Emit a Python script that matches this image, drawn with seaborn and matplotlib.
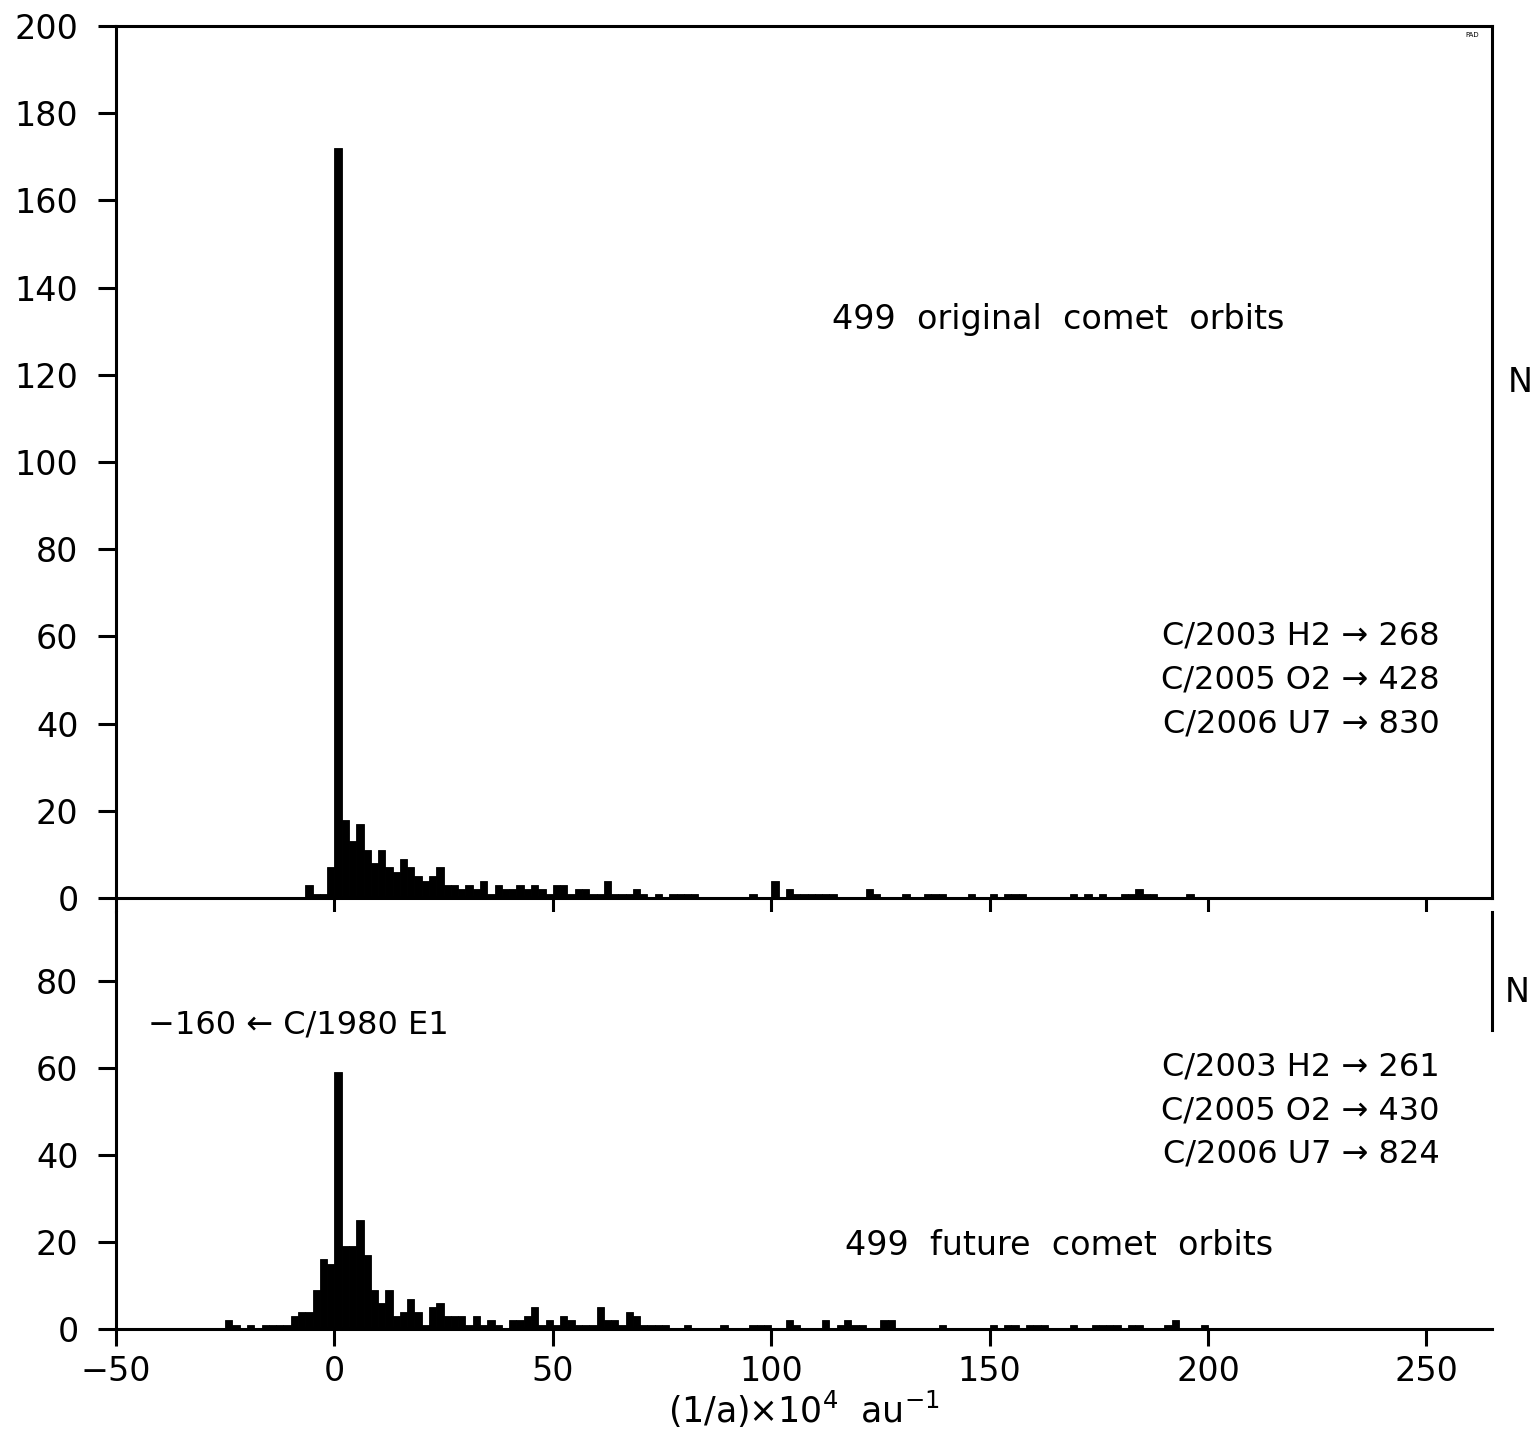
import numpy as np
import pandas as pd
import matplotlib
matplotlib.use("Agg")
import matplotlib.pyplot as plt
import seaborn as sns

# ---------------- data ----------------
BIN_WIDTH = 5.0 / 3.0  # in units of 1e-4 au^-1

# top panel: original orbits (bin index k -> bin [k*w, (k+1)*w])
top_bin = [-4, -3, -2, -1, 0, 1, 2, 3, 4, 5, 6, 7, 8, 9, 10, 11, 12, 13, 14, 15,
           16, 17, 18, 19, 20, 21, 22, 23, 24, 25, 26, 27, 28, 29, 30, 31, 32, 33,
           34, 35, 36, 37, 38, 39, 40, 41, 42, 44, 46, 47, 48, 49, 57, 60, 62, 63,
           64, 65, 66, 67, 68, 73, 74, 78, 81, 82, 83, 87, 90, 92, 93, 94, 101,
           103, 105, 108, 109, 110, 111, 112, 117]
top_count = [3, 1, 1, 7, 172, 18, 13, 17, 11, 8, 11, 7, 6, 9, 7, 5, 4, 5, 7, 3,
             3, 2, 3, 2, 4, 1, 3, 2, 2, 3, 2, 3, 2, 1, 3, 3, 1, 2,
             2, 1, 1, 4, 1, 1, 1, 2, 1, 1, 1, 1, 1, 1, 1, 4, 2, 1,
             1, 1, 1, 1, 1, 2, 1, 1, 1, 1, 1, 1, 1, 1, 1, 1, 1,
             1, 1, 1, 1, 2, 1, 1, 1]

# bottom panel: future orbits
bot_bin = [-15, -14, -12, -10, -9, -8, -7, -6, -5, -4, -3, -2, -1, 0, 1, 2, 3, 4,
           5, 6, 7, 8, 9, 10, 11, 12, 13, 14, 15, 16, 17, 18, 19, 20, 21, 22, 24,
           25, 26, 27, 28, 29, 30, 31, 32, 33, 34, 35, 36, 37, 38, 39, 40, 41, 42,
           43, 44, 45, 48, 53, 57, 58, 59, 62, 63, 67, 69, 70, 71, 72, 75, 76, 83,
           90, 92, 93, 95, 96, 97, 101, 104, 105, 106, 107, 109, 110, 114, 115, 119]
bot_count = [2, 1, 1, 1, 1, 1, 1, 3, 4, 4, 9, 16, 15, 59, 19, 19, 25, 17,
             9, 6, 9, 3, 4, 7, 4, 1, 5, 6, 3, 3, 3, 1, 3, 1, 2, 1, 2,
             2, 3, 5, 1, 2, 1, 3, 2, 1, 1, 1, 5, 2, 2, 1, 4, 3, 1,
             1, 1, 1, 1, 1, 1, 1, 1, 2, 1, 2, 1, 2, 1, 1, 2, 2, 1,
             1, 1, 1, 1, 1, 1, 1, 1, 1, 1, 1, 1, 1, 1, 2, 1]

top_notes = ["C/2003 H2 \u2192 268", "C/2005 O2 \u2192 428", "C/2006 U7 \u2192 830"]
bot_notes = ["C/2003 H2 \u2192 261", "C/2005 O2 \u2192 430", "C/2006 U7 \u2192 824"]
top_title = "499  original  comet  orbits"
bot_title = "499  future  comet  orbits"
bot_extra = "\u2212160 \u2190 C/1980 E1"
x_ticks = [-50, 0, 50, 100, 150, 200, 250]
top_yticks = [0, 20, 40, 60, 80, 100, 120, 140, 160, 180, 200]
bot_yticks = [0, 20, 40, 60, 80]

# ---------------- style ----------------
sns.set_theme(style="white")
plt.rcParams["font.family"] = ["DejaVu Sans"]
plt.rcParams.update({"text.color": "black", "axes.labelcolor": "black",
                     "xtick.color": "black", "ytick.color": "black"})
FS_TICK = 24
FS_TXT = 24
FS_NOTE = 23
LW = 2.2

fig = plt.figure(figsize=(15.36, 14.44), dpi=100)
W, H = 1536, 1444
left, right = 116 / W, 1492 / W
ax1 = fig.add_axes([left, 1 - 898 / H, right - left, (898 - 26) / H])
ax2 = fig.add_axes([left, 1 - 1329 / H, right - left, (1329 - 912) / H])


def draw(ax, bins, counts):
    bins = np.asarray(bins)
    counts = np.asarray(counts, dtype=int)
    centers = (bins + 0.5) * BIN_WIDTH
    df = pd.DataFrame({"x": np.repeat(centers, counts)})
    edges = list(np.arange(bins.min(), bins.max() + 2) * BIN_WIDTH)
    sns.histplot(data=df, x="x", bins=edges, ax=ax,
                 color="black", alpha=1.0, edgecolor="black", linewidth=0.6)
    ax.set_xlim(-50, 265)
    ax.set_xlabel("")
    ax.set_ylabel("")
    ax.set_xticks(x_ticks)
    for s in ax.spines.values():
        s.set_linewidth(LW)
        s.set_color("black")
    ax.tick_params(axis="both", which="major", direction="out", width=LW,
                   color="black", labelsize=FS_TICK, bottom=True, left=True,
                   top=False, right=False, labelcolor="black")
    ax.tick_params(axis="y", length=13, pad=14)
    ax.tick_params(axis="x", length=12, pad=7)


draw(ax1, top_bin, top_count)
ax1.set_ylim(0, 200)
ax1.set_yticks(top_yticks)
ax1.tick_params(axis="x", labelbottom=False, length=11)

draw(ax2, bot_bin, bot_count)
top2 = (1329 - 912) / 4.35
ax2.set_ylim(0, top2)
ax2.set_yticks(bot_yticks)
ax2.spines["top"].set_visible(False)
ax2.spines["right"].set_bounds(68.7, top2)
ax2.set_xlabel("(1/a)\u00d710$^{4}$  au$^{-1}$", fontsize=25, labelpad=0)

# texts
ax1.text(165.7, 132.6, top_title, fontsize=FS_TXT, ha="center", va="center")
for i, t in enumerate(top_notes):
    ax1.text(253, 60 - 10 * i, t, fontsize=FS_NOTE, ha="right", va="center")
ax1.text(262, 198.7, "PAD", fontsize=5, ha="right", va="top")

ax2.text(166, 19.1, bot_title, fontsize=FS_TXT, ha="center", va="center")
for i, t in enumerate(bot_notes):
    ax2.text(253, 60.2 - 10 * i, t, fontsize=FS_NOTE, ha="right", va="center")
ax2.text(-42.7, 69.9, bot_extra, fontsize=FS_NOTE, ha="left", va="center")

fig.text(1520 / W, 1 - 382 / H, "N", fontsize=FS_TICK, ha="center", va="center")
fig.text(1517 / W, 1 - 993 / H, "N", fontsize=FS_TICK, ha="center", va="center")

fig.savefig("out.png", dpi=100, facecolor="white")
